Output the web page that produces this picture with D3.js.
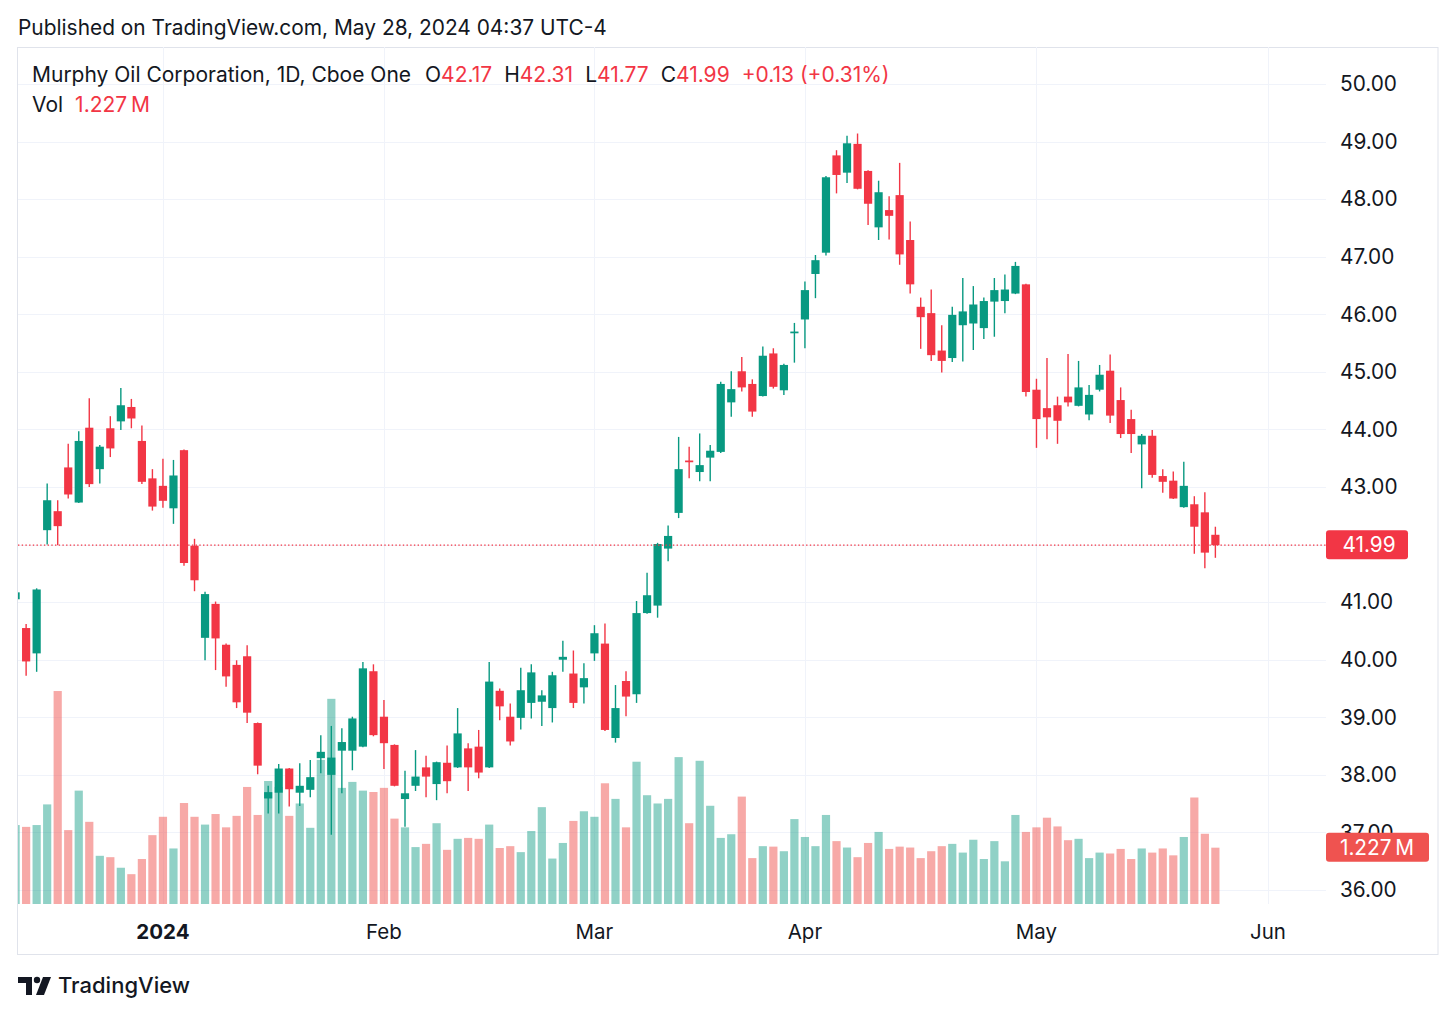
<!DOCTYPE html>
<html><head><meta charset="utf-8">
<script src="https://cdn.jsdelivr.net/npm/d3@7"></script>
<style>
body{margin:0;background:#fff;}
svg text{font-family:Inter,"Noto Sans",Roboto,sans-serif;}
</style>
</head><body>
<svg id="chart" width="1456" height="1016"></svg>
<script>
const dates = ["2023-12-11","2023-12-12","2023-12-13","2023-12-14","2023-12-15","2023-12-18","2023-12-19","2023-12-20","2023-12-21","2023-12-22","2023-12-26","2023-12-27","2023-12-28","2023-12-29",
"2024-01-02","2024-01-03","2024-01-04","2024-01-05","2024-01-08","2024-01-09","2024-01-10","2024-01-11","2024-01-12","2024-01-16","2024-01-17","2024-01-18","2024-01-19","2024-01-22","2024-01-23","2024-01-24","2024-01-25","2024-01-26","2024-01-29","2024-01-30","2024-01-31",
"2024-02-01","2024-02-02","2024-02-05","2024-02-06","2024-02-07","2024-02-08","2024-02-09","2024-02-12","2024-02-13","2024-02-14","2024-02-15","2024-02-16","2024-02-20","2024-02-21","2024-02-22","2024-02-23","2024-02-26","2024-02-27","2024-02-28","2024-02-29",
"2024-03-01","2024-03-04","2024-03-05","2024-03-06","2024-03-07","2024-03-08","2024-03-11","2024-03-12","2024-03-13","2024-03-14","2024-03-15","2024-03-18","2024-03-19","2024-03-20","2024-03-21","2024-03-22","2024-03-25","2024-03-26","2024-03-27","2024-03-28",
"2024-04-01","2024-04-02","2024-04-03","2024-04-04","2024-04-05","2024-04-08","2024-04-09","2024-04-10","2024-04-11","2024-04-12","2024-04-15","2024-04-16","2024-04-17","2024-04-18","2024-04-19","2024-04-22","2024-04-23","2024-04-24","2024-04-25","2024-04-26","2024-04-29","2024-04-30",
"2024-05-01","2024-05-02","2024-05-03","2024-05-06","2024-05-07","2024-05-08","2024-05-09","2024-05-10","2024-05-13","2024-05-14","2024-05-15","2024-05-16","2024-05-17","2024-05-20","2024-05-21","2024-05-22","2024-05-23","2024-05-24"];
const futureDates = ["2024-05-28","2024-05-29","2024-05-30","2024-05-31","2024-06-03"];

const open = [41.05,40.55,40.11,42.25,42.58,43.34,42.73,44.03,43.31,44.02,44.14,44.39,43.80,43.15,
43.02,42.63,43.64,41.98,40.38,40.97,40.26,39.91,40.06,38.90,37.59,37.69,38.11,37.69,37.74,38.29,38.00,38.42,38.42,38.49,39.80,
39.01,38.52,37.58,37.81,38.13,37.84,38.21,38.13,38.46,38.49,38.13,39.46,39.01,38.99,39.25,39.27,39.16,40.00,39.76,39.52,
40.11,40.28,38.64,39.63,39.40,40.81,40.94,41.93,42.55,43.46,43.26,43.51,43.61,44.47,45.01,44.79,44.58,45.32,44.68,45.67,
45.91,46.70,47.07,48.76,48.46,48.96,48.49,47.51,47.81,48.07,47.29,46.13,46.02,45.37,45.24,45.81,45.84,45.76,46.22,46.23,46.36,46.52,
44.69,44.37,44.42,44.57,44.41,44.26,44.69,45.02,44.51,44.18,43.74,43.89,43.19,43.11,42.65,42.70,42.56,42.17];
const high = [41.20,40.62,41.24,43.06,42.77,43.75,43.97,44.54,43.73,44.23,44.72,44.53,44.07,43.31,
43.49,43.47,43.65,42.10,41.18,41.01,40.28,39.99,40.25,38.91,37.81,38.19,38.12,38.20,38.26,38.69,38.85,38.81,39.01,39.96,39.92,
39.30,38.53,38.07,38.43,38.33,38.23,38.51,39.16,38.55,38.78,39.96,39.50,39.24,39.86,39.92,39.47,39.79,40.33,40.16,39.94,
40.60,40.63,39.56,39.80,41.02,41.51,42.03,42.33,43.87,43.70,43.93,43.73,44.83,45.01,45.26,44.87,45.44,45.41,45.14,45.85,
46.57,47.03,48.40,48.85,49.10,49.14,48.50,48.32,48.05,48.63,47.61,46.29,46.43,45.81,46.13,46.63,46.49,46.29,46.63,46.69,46.91,46.53,
44.88,45.24,44.57,45.31,45.19,44.77,45.12,45.30,44.73,44.34,43.92,43.99,43.31,43.27,43.44,42.84,42.91,42.31];
const low = [40.98,39.72,39.79,42.00,41.99,42.80,42.72,43.00,43.06,43.52,43.99,44.02,43.05,42.59,
42.64,42.36,41.63,41.19,39.99,39.82,39.53,39.16,38.90,38.01,37.33,37.33,37.45,37.46,37.61,38.03,36.96,37.68,38.08,38.48,38.67,
38.10,37.80,37.10,37.72,37.61,37.56,37.68,38.12,37.72,37.94,38.12,38.95,38.51,38.79,38.98,38.85,38.91,39.79,39.16,39.24,
39.98,38.76,38.56,39.02,39.25,40.80,40.73,41.71,42.46,43.15,43.10,43.10,43.59,44.22,44.66,44.22,44.57,44.71,44.60,45.16,
45.41,46.28,47.02,48.10,48.28,48.17,47.55,47.29,47.30,46.86,46.36,45.40,45.19,44.99,45.17,45.18,45.38,45.57,45.61,46.02,46.35,44.57,
43.68,43.83,43.75,44.40,44.40,44.16,44.66,44.11,43.85,43.59,42.98,43.16,42.90,42.79,42.64,41.84,41.59,41.77];
const close = [41.17,39.97,41.22,42.77,42.32,42.87,43.80,43.05,43.70,43.67,44.42,44.19,43.09,42.66,
42.76,43.20,41.68,41.38,41.14,40.37,39.71,39.26,39.08,38.16,37.70,38.11,37.75,37.81,37.96,38.40,38.30,38.57,38.98,39.85,38.69,
38.55,37.81,37.68,37.97,37.97,38.22,37.89,38.72,38.13,38.04,39.62,39.19,38.58,39.47,39.78,39.38,39.73,40.05,39.25,39.68,
40.46,38.78,39.16,39.36,40.81,41.12,42.01,42.15,43.31,43.43,43.38,43.63,44.79,44.70,44.73,44.31,45.28,44.74,45.12,45.70,
46.42,46.94,48.38,48.42,48.97,48.18,47.92,48.12,47.71,47.04,46.52,45.95,45.29,45.19,45.99,46.05,46.17,46.23,46.42,46.43,46.84,44.65,
44.18,44.21,44.15,44.47,44.73,44.60,44.95,44.24,43.92,43.92,43.89,43.21,43.09,42.80,43.02,42.31,41.86,41.99];
const volume = [1.72,1.68,1.72,2.17,4.64,1.61,2.47,1.79,1.05,1.02,0.79,0.65,0.98,1.50,
1.90,1.21,2.20,1.90,1.73,1.96,1.67,1.92,2.55,1.94,2.68,2.55,1.92,2.19,1.66,3.14,4.47,2.53,2.66,2.47,2.44,
2.53,1.86,1.67,1.24,1.31,1.76,1.18,1.42,1.44,1.42,1.73,1.22,1.26,1.13,1.59,2.11,0.99,1.33,1.81,2.02,
1.90,2.63,2.29,1.67,3.10,2.37,2.19,2.29,3.20,1.76,3.12,2.14,1.44,1.52,2.34,1.00,1.26,1.25,1.15,1.85,
1.46,1.26,1.94,1.37,1.23,1.02,1.33,1.57,1.20,1.25,1.23,1.00,1.15,1.26,1.31,1.12,1.40,0.98,1.37,0.93,1.94,1.57,
1.67,1.88,1.69,1.39,1.42,1.00,1.12,1.10,1.20,0.98,1.21,1.12,1.21,1.06,1.46,2.32,1.53,1.227];

const priceTicks = [36,37,38,39,40,41,42,43,44,45,46,47,48,49,50];
const monthTickDates = ["2024-01-02","2024-02-01","2024-03-01","2024-04-01","2024-05-01","2024-06-03"];
const monthTickLabels = ["2024","Feb","Mar","Apr","May","Jun"];

const title = "Published on TradingView.com, May 28, 2024 04:37 UTC-4";
const symbolText = "Murphy Oil Corporation, 1D, Cboe One";
const lastPrice = 41.99;
const lastVolumeLabel = "1.227\u2009M";

const UP = "#089981", DOWN = "#f23645";
const UPV = "rgba(8,153,129,0.45)", DOWNV = "rgba(239,83,80,0.5)";

const svg = d3.select("#chart");
const plot = {left:18, right:1326, top:47, bottom:904};

const x = d3.scalePoint().domain(dates.concat(futureDates)).range([15.6, 1268]);
const bw = 8.2;
const y = d3.scaleLinear().domain([36, 50]).range([890, 84]);
const yv = d3.scaleLinear().domain([0, 5]).range([904, 904 - 5*45.9]);

// header
svg.append("text").attr("x",18).attr("y",35).attr("font-size",20.9).attr("fill","#131722").text(title);

// frame
svg.append("rect").attr("x",17.5).attr("y",47.5).attr("width",1420.5).attr("height",907)
  .attr("fill","none").attr("stroke","#e0e3eb").attr("stroke-width",1);

// grid
const grid = svg.append("g");
grid.selectAll("line.h").data(priceTicks).join("line")
  .attr("x1",plot.left).attr("x2",plot.right)
  .attr("y1",d=>Math.round(y(d))+0.5).attr("y2",d=>Math.round(y(d))+0.5)
  .attr("stroke","#f0f3fa").attr("stroke-width",1);
grid.selectAll("line.v").data(monthTickDates).join("line")
  .attr("x1",d=>Math.round(x(d))+0.5).attr("x2",d=>Math.round(x(d))+0.5)
  .attr("y1",plot.top).attr("y2",plot.bottom)
  .attr("stroke","#f0f3fa").attr("stroke-width",1);

// clip
svg.append("clipPath").attr("id","clip").append("rect")
  .attr("x",plot.left).attr("y",plot.top).attr("width",plot.right-plot.left).attr("height",plot.bottom-plot.top);
const g = svg.append("g").attr("clip-path","url(#clip)");

const data = dates.map((d,i)=>({d, o:open[i], h:high[i], l:low[i], c:close[i], v:volume[i]}));

// volume
g.selectAll("rect.vol").data(data).join("rect")
  .attr("x",d=>x(d.d)-bw/2).attr("width",bw)
  .attr("y",d=>yv(d.v)).attr("height",d=>yv(0)-yv(d.v))
  .attr("fill",d=>d.c>=d.o?UPV:DOWNV);

// wicks
g.selectAll("line.wick").data(data).join("line")
  .attr("x1",d=>x(d.d)).attr("x2",d=>x(d.d))
  .attr("y1",d=>y(d.h)).attr("y2",d=>y(d.l))
  .attr("stroke",d=>d.c>=d.o?UP:DOWN).attr("stroke-width",1.4);
// bodies
g.selectAll("rect.body").data(data).join("rect")
  .attr("x",d=>x(d.d)-bw/2).attr("width",bw)
  .attr("y",d=>y(Math.max(d.o,d.c)))
  .attr("height",d=>Math.max(1.2, Math.abs(y(d.o)-y(d.c))))
  .attr("fill",d=>d.c>=d.o?UP:DOWN);

// last price line
svg.append("line").attr("x1",plot.left).attr("x2",plot.right)
  .attr("y1",y(lastPrice)).attr("y2",y(lastPrice))
  .attr("stroke",DOWN).attr("stroke-width",1.4).attr("stroke-dasharray","1.4 2.3");

// price axis labels (the one hidden by the last-price marker is not drawn)
svg.selectAll("text.pl").data(priceTicks.filter(d=>Math.abs(y(d)-y(lastPrice))>20)).join("text")
  .attr("x",1340).attr("y",d=>y(d)).attr("dy","0.35em")
  .attr("font-size",20.8).attr("fill","#131722")
  .text(d=>d3.format(".2f")(d));

// last price box
svg.append("rect").attr("x",1326).attr("y",y(lastPrice)-15).attr("width",82).attr("height",29)
  .attr("rx",3).attr("fill",DOWN);
svg.append("text").attr("x",1369).attr("y",y(lastPrice)).attr("dy","0.35em").attr("text-anchor","middle")
  .attr("font-size",20.8).attr("fill","#fff").text(d3.format(".2f")(lastPrice));

// volume box
const vLast = volume[volume.length-1];
svg.append("rect").attr("x",1326).attr("y",yv(vLast)-15).attr("width",103).attr("height",29)
  .attr("rx",3).attr("fill","#ef5350");
svg.append("text").attr("x",1377).attr("y",yv(vLast)).attr("dy","0.35em").attr("text-anchor","middle")
  .attr("font-size",20.8).attr("fill","#fff").text(lastVolumeLabel);

// time axis labels
svg.selectAll("text.tl").data(monthTickDates).join("text")
  .attr("x",d=>x(d)).attr("y",932).attr("dy","0.35em").attr("text-anchor","middle")
  .attr("font-size",20.5).attr("fill","#131722")
  .attr("font-weight",(d,i)=>i===0?700:400)
  .text((d,i)=>monthTickLabels[i]);

// legend
const last = data[data.length-1];
const prev = data[data.length-2];
const chg = last.c - prev.c;
const lg = svg.append("text").attr("x",32).attr("y",82).attr("font-size",21).attr("fill","#131722");
lg.append("tspan").text(symbolText);
const fields = [["O",last.o],["H",last.h],["L",last.l],["C",last.c]];
fields.forEach((f,i)=>{
  lg.append("tspan").attr("dx", i===0?14:12).text(f[0]);
  lg.append("tspan").attr("fill",DOWN).text(d3.format(".2f")(f[1]));
});
lg.append("tspan").attr("dx",12).attr("fill",DOWN)
  .text("+" + d3.format(".2f")(chg) + " (+" + d3.format(".2f")(chg/prev.c*100) + "%)");

const vl = svg.append("text").attr("x",32).attr("y",112).attr("font-size",21).attr("fill","#131722");
vl.append("tspan").text("Vol");
vl.append("tspan").attr("dx",12).attr("fill",DOWN).text(lastVolumeLabel);

// TradingView logo
const logo = svg.append("g").attr("fill","#131722");
logo.append("path").attr("d","M18 977 H32 V995 H26 V983 H18 Z");
logo.append("circle").attr("cx",37).attr("cy",980).attr("r",3.2);
logo.append("path").attr("d","M43 977 H51 L44 995 H36 Z");
svg.append("text").attr("x",58).attr("y",993).attr("font-size",22).attr("font-weight",500)
  .attr("fill","#131722").text("TradingView");
</script>
</body></html>
